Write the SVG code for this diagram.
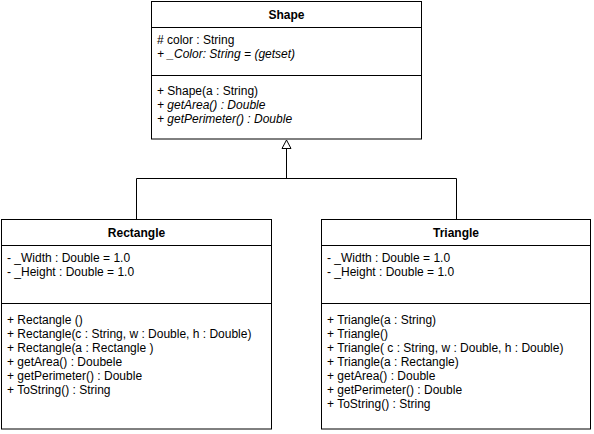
<svg xmlns="http://www.w3.org/2000/svg" width="594" height="434" viewBox="0 0 594 434">
<style>
.box{fill:#fff;stroke:#000;stroke-width:1}
.div{stroke:#000;stroke-width:1}
text{font-family:"Liberation Sans",Arial,sans-serif;font-size:12px;fill:#000}
.t{font-weight:bold;text-anchor:middle}
.i{font-style:italic}
.c{fill:none;stroke:#000;stroke-width:1}
</style>
<defs>
<marker id="gen" markerWidth="12" markerHeight="12" refX="1" refY="5" orient="auto" markerUnits="userSpaceOnUse" viewBox="0 0 12 10">
<path d="M9,5 L1,1 L1,9 Z" fill="#fff" stroke="#000" stroke-width="1"/>
</marker>
</defs>
<rect width="594" height="434" fill="#fff"/>
<g id="connectors">
<path class="c" d="M136.5,219 V178.5 H456.5 V219"/>
<path class="c" d="M286.5,178.5 V148.5"/>
<path d="M286.5,140 L282,148.5 L291,148.5 Z" fill="#fff" stroke="#000" stroke-width="1"/>
</g>
<g id="Shape">
<rect class="box" x="151.5" y="1.5" width="270" height="137.5"/>
<line class="div" x1="151.5" y1="27.5" x2="421.5" y2="27.5"/>
<line class="div" x1="151.5" y1="75.5" x2="421.5" y2="75.5"/>
<text class="t" x="286.5" y="19">Shape</text>
<text x="157" y="44"># color : String</text>
<text class="i" x="157" y="58">+ _Color: String = (getset)</text>
<text x="157" y="95">+ Shape(a : String)</text>
<text class="i" x="157" y="109">+ getArea() : Double</text>
<text class="i" x="157" y="123">+ getPerimeter() : Double</text>
</g>
<g id="Rectangle">
<rect class="box" x="1.5" y="219.5" width="270" height="209.5"/>
<line class="div" x1="1.5" y1="245.5" x2="271.5" y2="245.5"/>
<line class="div" x1="1.5" y1="303.5" x2="271.5" y2="303.5"/>
<text class="t" x="136.5" y="237">Rectangle</text>
<text x="7" y="262">- _Width : Double = 1.0</text>
<text x="7" y="276">- _Height : Double = 1.0</text>
<text x="7" y="324">+ Rectangle ()</text>
<text x="7" y="338">+ Rectangle(c : String, w : Double, h : Double)</text>
<text x="7" y="352">+ Rectangle(a : Rectangle )</text>
<text x="7" y="366">+ getArea() : Doubele</text>
<text x="7" y="380">+ getPerimeter() : Double</text>
<text x="7" y="394">+ ToString() : String</text>
</g>
<g id="Triangle">
<rect class="box" x="321.5" y="219.5" width="269" height="209.5"/>
<line class="div" x1="321.5" y1="245.5" x2="590.5" y2="245.5"/>
<line class="div" x1="321.5" y1="303.5" x2="590.5" y2="303.5"/>
<text class="t" x="456" y="237">Triangle</text>
<text x="327" y="262">- _Width : Double = 1.0</text>
<text x="327" y="276">- _Height : Double = 1.0</text>
<text x="327" y="324">+ Triangle(a : String)</text>
<text x="327" y="338">+ Triangle()</text>
<text x="327" y="352">+ Triangle( c : String, w : Double, h : Double)</text>
<text x="327" y="366">+ Triangle(a : Rectangle)</text>
<text x="327" y="380">+ getArea() : Double</text>
<text x="327" y="394">+ getPerimeter() : Double</text>
<text x="327" y="408">+ ToString() : String</text>
</g>
</svg>
